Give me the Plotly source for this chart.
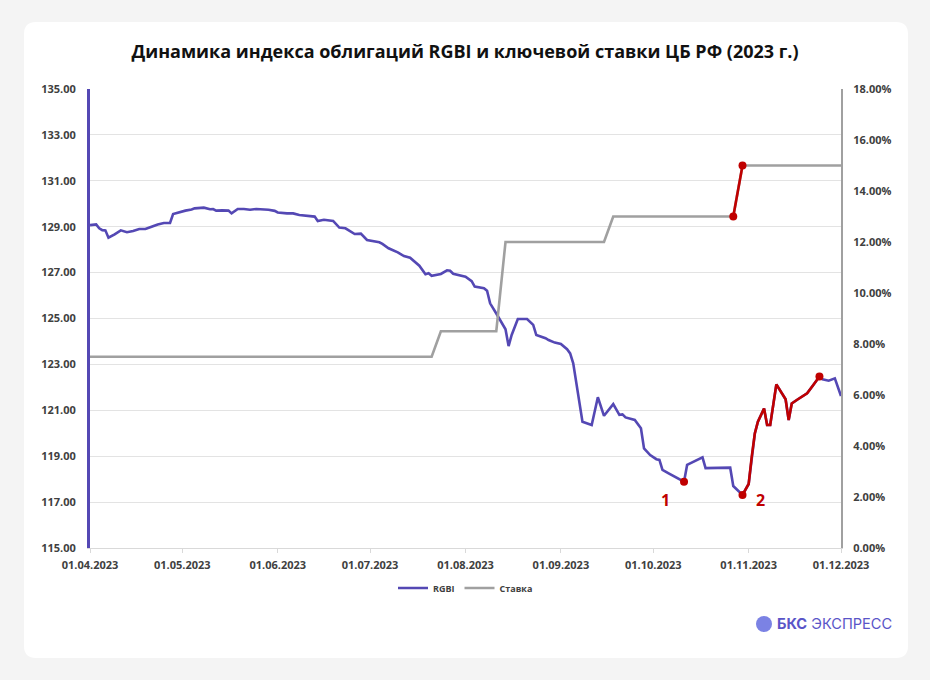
import plotly.graph_objects as go

# ---------------- data ----------------
rgbi_dates = [
    "2023-04-01", "2023-04-03", "2023-04-04", "2023-04-05", "2023-04-06", "2023-04-07",
    "2023-04-09", "2023-04-11", "2023-04-13", "2023-04-15", "2023-04-17", "2023-04-19",
    "2023-04-21", "2023-04-23", "2023-04-25", "2023-04-27", "2023-04-28", "2023-04-30",
    "2023-05-02", "2023-05-04", "2023-05-05", "2023-05-08", "2023-05-10", "2023-05-11",
    "2023-05-12", "2023-05-14", "2023-05-16", "2023-05-17", "2023-05-19", "2023-05-21",
    "2023-05-23", "2023-05-25", "2023-05-27", "2023-05-29", "2023-05-31", "2023-06-01",
    "2023-06-04", "2023-06-06", "2023-06-08", "2023-06-13", "2023-06-14", "2023-06-16",
    "2023-06-19", "2023-06-21", "2023-06-23", "2023-06-26", "2023-06-28", "2023-06-30",
    "2023-07-04", "2023-07-05", "2023-07-07", "2023-07-10", "2023-07-12", "2023-07-14",
    "2023-07-17", "2023-07-19", "2023-07-20", "2023-07-21", "2023-07-24", "2023-07-26",
    "2023-07-27", "2023-07-28", "2023-08-01", "2023-08-03", "2023-08-04", "2023-08-07",
    "2023-08-08", "2023-08-09", "2023-08-11", "2023-08-13", "2023-08-14", "2023-08-15",
    "2023-08-16", "2023-08-18", "2023-08-21", "2023-08-23", "2023-08-24", "2023-08-27",
    "2023-08-28", "2023-08-30", "2023-09-01", "2023-09-03", "2023-09-04", "2023-09-05",
    "2023-09-08", "2023-09-11", "2023-09-13", "2023-09-15", "2023-09-18", "2023-09-20",
    "2023-09-21", "2023-09-22", "2023-09-25", "2023-09-27", "2023-09-28", "2023-09-30",
    "2023-10-02", "2023-10-03", "2023-10-04", "2023-10-06", "2023-10-08", "2023-10-11",
    "2023-10-12", "2023-10-14", "2023-10-17", "2023-10-18", "2023-10-21", "2023-10-26",
    "2023-10-27", "2023-10-30", "2023-11-01", "2023-11-02", "2023-11-03", "2023-11-04",
    "2023-11-06", "2023-11-07", "2023-11-08", "2023-11-10", "2023-11-13", "2023-11-14",
    "2023-11-15", "2023-11-17", "2023-11-20", "2023-11-22", "2023-11-24", "2023-11-25",
    "2023-11-27", "2023-11-29", "2023-11-30", "2023-12-01",
]
rgbi_values = [
    129.07, 129.10, 128.93, 128.85, 128.84, 128.52,
    128.67, 128.84, 128.76, 128.81, 128.90, 128.90,
    129.00, 129.10, 129.16, 129.16, 129.55, 129.63,
    129.70, 129.75, 129.80, 129.83, 129.76, 129.77,
    129.70, 129.71, 129.70, 129.58, 129.77, 129.77,
    129.74, 129.77, 129.77, 129.74, 129.69, 129.62,
    129.58, 129.58, 129.51, 129.44, 129.25, 129.30,
    129.25, 128.96, 128.93, 128.68, 128.70, 128.42,
    128.32, 128.25, 128.06, 127.88, 127.72, 127.65,
    127.30, 126.93, 126.97, 126.86, 126.94, 127.10,
    127.08, 126.95, 126.82, 126.63, 126.39, 126.32,
    126.21, 125.66, 125.22, 124.79, 124.53, 123.80,
    124.28, 124.98, 124.98, 124.72, 124.28, 124.14,
    124.06, 123.95, 123.89, 123.66, 123.48, 123.05,
    120.50, 120.36, 121.57, 120.76, 121.27, 120.80,
    120.82, 120.69, 120.58, 120.22, 119.34, 119.05,
    118.87, 118.84, 118.40, 118.25, 118.10, 117.89,
    118.62, 118.76, 118.95, 118.48, 118.50, 118.50,
    117.70, 117.31, 117.79, 118.98, 119.99, 120.50,
    121.08, 120.36, 120.36, 122.13, 121.48, 120.58,
    121.30, 121.48, 121.74, 122.10, 122.47, 122.35,
    122.29, 122.39, 122.03, 121.62,
]

rate_dates = ["2023-04-01", "2023-07-21", "2023-07-24", "2023-08-11", "2023-08-14",
              "2023-09-15", "2023-09-18", "2023-10-27", "2023-10-30", "2023-12-01"]
rate_values = [7.5, 7.5, 8.5, 8.5, 12.0, 12.0, 13.0, 13.0, 15.0, 15.0]

point1_date = "2023-10-11"
rgbi_red_start, rgbi_red_end = "2023-10-30", "2023-11-24"
rate_red_start, rate_red_end = "2023-10-27", "2023-10-30"

month_ticks = ["2023-04-01", "2023-05-01", "2023-06-01", "2023-07-01", "2023-08-01",
               "2023-09-01", "2023-10-01", "2023-11-01", "2023-12-01"]
month_labels = ["01.04.2023", "01.05.2023", "01.06.2023", "01.07.2023", "01.08.2023",
                "01.09.2023", "01.10.2023", "01.11.2023", "01.12.2023"]
left_ticks = [115, 117, 119, 121, 123, 125, 127, 129, 131, 133, 135]
right_ticks = [0, 2, 4, 6, 8, 10, 12, 14, 16, 18]

# ---------------- styles ----------------
PURPLE = "#5448b4"
GREY = "#a0a0a0"
RED = "#c00000"
TXT = "#404040"
W, H = 930, 680
L, R, T, B = 90, 89, 89, 132
PW, PH = W - L - R, H - T - B


def px2paper(x, y):
    return (x - L) / PW, (H - B - y) / PH


def rounded_rect(x0, y0, x1, y1, r):
    def p(x, y):
        a, b = px2paper(x, y)
        return f"{a:.5f},{b:.5f}"
    path = (f"M{p(x0 + r, y0)} L{p(x1 - r, y0)} Q{p(x1, y0)} {p(x1, y0 + r)} "
            f"L{p(x1, y1 - r)} Q{p(x1, y1)} {p(x1 - r, y1)} "
            f"L{p(x0 + r, y1)} Q{p(x0, y1)} {p(x0, y1 - r)} "
            f"L{p(x0, y0 + r)} Q{p(x0, y0)} {p(x0 + r, y0)} Z")
    return path


i0 = rgbi_dates.index(rgbi_red_start)
i1 = rgbi_dates.index(rgbi_red_end)
j0 = rate_dates.index(rate_red_start)
j1 = rate_dates.index(rate_red_end)
k1 = rgbi_dates.index(point1_date)

fig = go.Figure()
fig.add_trace(go.Scatter(x=rgbi_dates, y=rgbi_values, mode="lines", name="RGBI",
                         line=dict(color=PURPLE, width=2.6), yaxis="y"))
fig.add_trace(go.Scatter(x=rgbi_dates[i0:i1 + 1], y=rgbi_values[i0:i1 + 1], mode="lines",
                         line=dict(color=RED, width=2.6), showlegend=False, yaxis="y"))
fig.add_trace(go.Scatter(x=[rgbi_dates[k1], rgbi_dates[i0], rgbi_dates[i1]],
                         y=[rgbi_values[k1], rgbi_values[i0], rgbi_values[i1]],
                         mode="markers", marker=dict(color=RED, size=8),
                         showlegend=False, yaxis="y"))
fig.add_trace(go.Scatter(x=rate_dates, y=rate_values, mode="lines", name="Ставка",
                         line=dict(color=GREY, width=2.6), yaxis="y2"))
fig.add_trace(go.Scatter(x=rate_dates[j0:j1 + 1], y=rate_values[j0:j1 + 1],
                         mode="lines+markers", line=dict(color=RED, width=2.6),
                         marker=dict(color=RED, size=8), showlegend=False, yaxis="y2"))

tickfont = dict(family="Open Sans", size=11, color=TXT, weight="bold")

fig.update_layout(
    width=W, height=H,
    margin=dict(l=L, r=R, t=T, b=B),
    paper_bgcolor="#f4f4f4",
    plot_bgcolor="rgba(0,0,0,0)",
    title=dict(text="<b>Динамика индекса облигаций RGBI и ключевой ставки ЦБ РФ (2023 г.)</b>",
               x=0.5, xanchor="center", y=1 - 52 / H, yanchor="middle",
               font=dict(family="Open Sans", size=18, color="#111111")),
    xaxis=dict(type="date", range=["2023-04-01", "2023-12-01"],
               tickvals=month_ticks, ticktext=month_labels,
               tickfont=tickfont, showgrid=False, showline=True,
               linecolor="#d9d9d9", linewidth=1, ticks="outside", ticklen=4,
               tickcolor="#d9d9d9", zeroline=False, ticklabelstandoff=3),
    yaxis=dict(range=[115, 135], tickvals=left_ticks,
               ticktext=[f"{v:.2f}" for v in left_ticks], tickfont=tickfont,
               showgrid=True, gridcolor="#e3e3e3", gridwidth=1,
               showline=True, linecolor=PURPLE, linewidth=3, zeroline=False,
               ticks="", ticklabelstandoff=9),
    yaxis2=dict(range=[0, 18], tickvals=right_ticks,
                ticktext=[f"{v:.2f}%" for v in right_ticks], tickfont=tickfont,
                overlaying="y", side="right", showgrid=False,
                showline=True, linecolor=GREY, linewidth=2, zeroline=False,
                ticks="", ticklabelstandoff=8),
    legend=dict(orientation="h", x=0.5, xanchor="center", y=-40 / PH, yanchor="middle",
                font=dict(family="Open Sans", size=9, color=TXT, weight="bold"),
                bgcolor="rgba(0,0,0,0)", itemwidth=30),
    showlegend=True,
)

# card background
fig.add_shape(type="path", path=rounded_rect(24, 22, 908, 658, 12),
              xref="paper", yref="paper", fillcolor="white",
              line=dict(width=0), layer="below")

# labels 1 and 2
fig.add_annotation(x="2023-10-05", y=117.1, xref="x", yref="y", text="<b>1</b>",
                   showarrow=False, font=dict(family="Open Sans", size=16, color=RED))
fig.add_annotation(x="2023-11-05", y=117.1, xref="x", yref="y", text="<b>2</b>",
                   showarrow=False, font=dict(family="Open Sans", size=16, color=RED))

# logo
cx0, cy0 = px2paper(756, 616)
cx1, cy1 = px2paper(772, 632)
fig.add_shape(type="circle", xref="paper", yref="paper", x0=cx0, y0=cy1, x1=cx1, y1=cy0,
              fillcolor="#7b82e4", line=dict(width=0))
lx, ly = px2paper(775, 624)
fig.add_annotation(x=lx, y=ly, xref="paper", yref="paper", xanchor="left", yanchor="middle",
                   text="<b>БКС</b> ЭКСПРЕСС", showarrow=False,
                   font=dict(family="Inter", size=14.6, color="#5a55c8"))

fig.write_html("out.html")
